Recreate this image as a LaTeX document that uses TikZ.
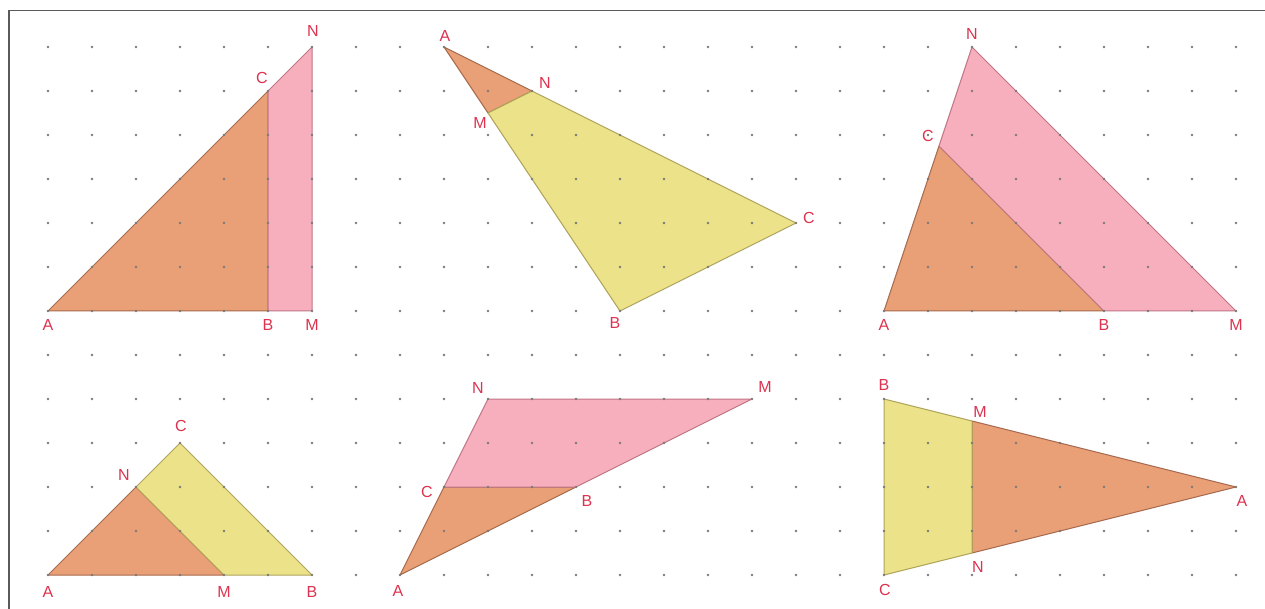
\documentclass[tikz,border=0pt]{standalone}
\usepackage{fontspec}
\setmainfont{Liberation Sans}
\begin{document}
\begin{tikzpicture}[x=1pt,y=-1pt,
  lbl/.style={text=labred, font=\fontsize{16}{16}\selectfont, inner sep=0pt},
  orng/.style={fill=fillor, draw=edgeor, line width=1pt, line join=round},
  pnk/.style={fill=fillpk, draw=edgepk, line width=1pt, line join=round},
  yel/.style={fill=fillye, draw=edgeye, line width=1pt, line join=round},
  griddot/.style={fill=dotgray}]
\definecolor{labred}{HTML}{DD3350}
\definecolor{fillor}{HTML}{E9A077}
\definecolor{fillpk}{HTML}{F7AFBE}
\definecolor{fillye}{HTML}{EBE28A}
\definecolor{edgeor}{HTML}{A86A4C}
\definecolor{edgepk}{HTML}{C07585}
\definecolor{edgeye}{HTML}{B0A45A}
\definecolor{dotgray}{HTML}{7A7A7A}
\definecolor{framegray}{HTML}{5A5A5A}
\useasboundingbox (0,0) rectangle (1265,609);
\fill[white] (0,0) rectangle (1265,609);
\coordinate (fbl) at (9,609);
\coordinate (ftl) at (9,10.5);
\coordinate (ftr) at (1265,10.5);
\draw[framegray, line width=1.8pt] (fbl) -- (ftl) -- (ftr);
\begin{scope}[shift={(48pt,-311pt)}, x=44pt, y=44pt]
  % figure 1
  \coordinate (A1) at (0,0); \coordinate (B1) at (5,0); \coordinate (M1) at (6,0);
  \coordinate (C1) at (5,5); \coordinate (N1) at (6,6);
  \draw[orng] (A1) -- (B1) -- (C1) -- cycle;
  \draw[pnk] (B1) -- (M1) -- (N1) -- (C1) -- cycle;
  % figure 2
  \coordinate (A2) at (9,6); \coordinate (B2) at (13,0); \coordinate (C2) at (17,2);
  \coordinate (M2) at (10,4.5); \coordinate (N2) at (11,5);
  \draw[orng] (A2) -- (M2) -- (N2) -- cycle;
  \draw[yel] (M2) -- (B2) -- (C2) -- (N2) -- cycle;
  % figure 3
  \coordinate (A3) at (19,0); \coordinate (B3) at (24,0); \coordinate (M3) at (27,0);
  \coordinate (N3) at (21,6); \coordinate (C3) at (20.25,3.75);
  \draw[orng] (A3) -- (B3) -- (C3) -- cycle;
  \draw[pnk] (B3) -- (M3) -- (N3) -- (C3) -- cycle;
  % figure 4
  \coordinate (A4) at (0,-6); \coordinate (M4) at (4,-6); \coordinate (B4) at (6,-6);
  \coordinate (C4) at (3,-3); \coordinate (N4) at (2,-4);
  \draw[orng] (A4) -- (M4) -- (N4) -- cycle;
  \draw[yel] (M4) -- (B4) -- (C4) -- (N4) -- cycle;
  % figure 5
  \coordinate (A5) at (8,-6); \coordinate (C5) at (9,-4); \coordinate (B5) at (12,-4);
  \coordinate (N5) at (10,-2); \coordinate (M5) at (16,-2);
  \draw[orng] (A5) -- (B5) -- (C5) -- cycle;
  \draw[pnk] (C5) -- (B5) -- (M5) -- (N5) -- cycle;
  % figure 6
  \coordinate (B6) at (19,-2); \coordinate (C6) at (19,-6); \coordinate (A6) at (27,-4);
  \coordinate (M6) at (21,-2.5); \coordinate (N6) at (21,-5.5);
  \draw[orng] (A6) -- (M6) -- (N6) -- cycle;
  \draw[yel] (B6) -- (C6) -- (N6) -- (M6) -- cycle;
  % grid dots
  \foreach \i in {0,...,27}
    \foreach \j in {-6,...,6}
      \fill[griddot] (\i,\j) circle[radius=1.4pt];
\end{scope}
% labels figure 1
\node[lbl] (lA1) at ([shift={(0pt,-14pt)}]A1) {A};
\node[lbl] (lB1) at ([shift={(0pt,-14pt)}]B1) {B};
\node[lbl] (lM1) at ([shift={(0pt,-14pt)}]M1) {M};
\node[lbl] (lC1) at ([shift={(-6pt,13pt)}]C1) {C};
\node[lbl] (lN1) at ([shift={(1pt,16pt)}]N1) {N};
% labels figure 2
\node[lbl] (lA2) at ([shift={(1pt,11pt)}]A2) {A};
\node[lbl] (lN2) at ([shift={(13pt,8pt)}]N2) {N};
\node[lbl] (lM2) at ([shift={(-8pt,-10pt)}]M2) {M};
\node[lbl] (lC2) at ([shift={(13pt,5pt)}]C2) {C};
\node[lbl] (lB2) at ([shift={(-5pt,-12pt)}]B2) {B};
% labels figure 3
\node[lbl] (lA3) at ([shift={(0pt,-14pt)}]A3) {A};
\node[lbl] (lB3) at ([shift={(0pt,-14pt)}]B3) {B};
\node[lbl] (lM3) at ([shift={(0pt,-14pt)}]M3) {M};
\node[lbl] (lC3) at ([shift={(-11pt,10pt)}]C3) {C};
\node[lbl] (lN3) at ([shift={(0pt,13pt)}]N3) {N};
% labels figure 4
\node[lbl] (lA4) at ([shift={(0pt,-17pt)}]A4) {A};
\node[lbl] (lM4) at ([shift={(0pt,-17pt)}]M4) {M};
\node[lbl] (lB4) at ([shift={(0pt,-17pt)}]B4) {B};
\node[lbl] (lC4) at ([shift={(1pt,17pt)}]C4) {C};
\node[lbl] (lN4) at ([shift={(-12pt,12pt)}]N4) {N};
% labels figure 5
\node[lbl] (lA5) at ([shift={(-2pt,-16pt)}]A5) {A};
\node[lbl] (lC5) at ([shift={(-17pt,-5pt)}]C5) {C};
\node[lbl] (lB5) at ([shift={(11pt,-14pt)}]B5) {B};
\node[lbl] (lN5) at ([shift={(-10pt,11pt)}]N5) {N};
\node[lbl] (lM5) at ([shift={(13pt,12pt)}]M5) {M};
% labels figure 6
\node[lbl] (lB6) at ([shift={(0pt,14pt)}]B6) {B};
\node[lbl] (lM6) at ([shift={(8pt,9pt)}]M6) {M};
\node[lbl] (lA6) at ([shift={(6pt,-14pt)}]A6) {A};
\node[lbl] (lN6) at ([shift={(6pt,-14pt)}]N6) {N};
\node[lbl] (lC6) at ([shift={(1pt,-15pt)}]C6) {C};
\end{tikzpicture}
\end{document}
